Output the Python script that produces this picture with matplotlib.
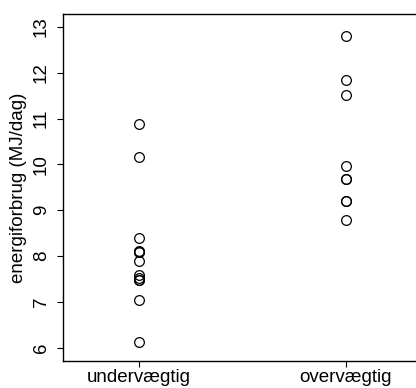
from matplotlib import pyplot as plt
import numpy as np

plt.rcParams['font.family'] = ['Liberation Sans', 'DejaVu Sans']

groups = ["undervægtig", "overvægtig"]
lean = [6.13, 7.05, 7.48, 7.48, 7.53, 7.58, 7.90, 8.08, 8.09, 8.11, 8.40, 10.15, 10.88]
obese = [8.79, 9.19, 9.21, 9.68, 9.69, 9.97, 11.51, 11.85, 12.79]

fig = plt.figure(figsize=(4.16, 3.88), dpi=100)
ax = fig.add_axes([0.1507, 0.0696, 0.863, 0.8943])

for i, vals in enumerate([lean, obese]):
    x = np.full(len(vals), i + 1)
    ax.plot(x, vals, linestyle='none', marker='o', markersize=7,
            markerfacecolor='none', markeredgecolor='black', markeredgewidth=0.9)

ax.set_xlim(0.633, 2.367)
ax.set_ylim(5.71, 13.28)
ax.set_xticks([1, 2])
ax.set_xticklabels(groups, fontsize=13.5)
ax.set_yticks(range(6, 14))
ax.set_yticklabels([str(v) for v in range(6, 14)], fontsize=13.5, rotation=90, va='center')
ax.tick_params(direction='out', length=4.3, width=0.8)
ax.tick_params(axis='x', pad=1.5)
ax.tick_params(axis='y', pad=5)
ax.set_ylabel("energiforbrug (MJ/dag)", fontsize=13.5, labelpad=4)

for s in ax.spines.values():
    s.set_linewidth(1.0)

plt.savefig('out.png', dpi=100)
